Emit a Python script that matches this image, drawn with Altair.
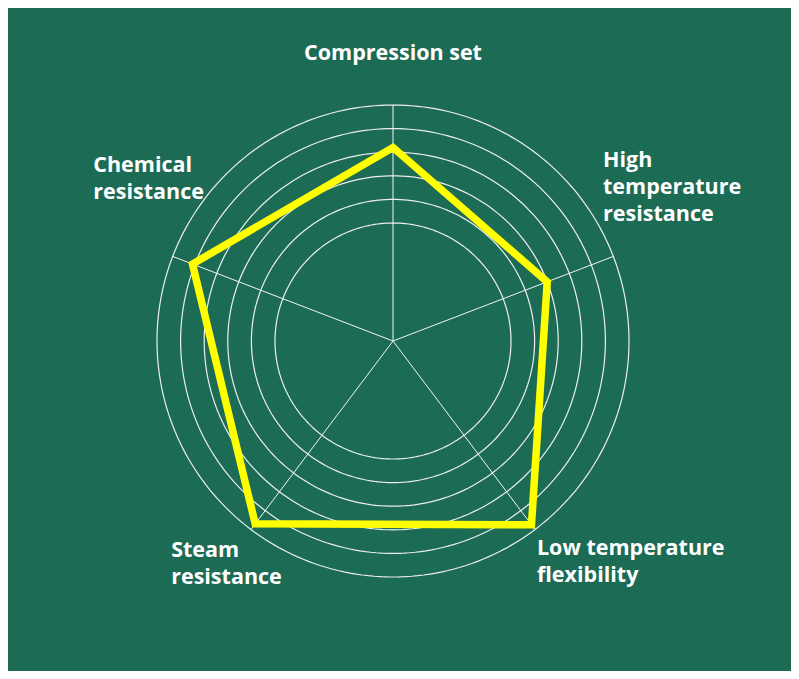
import altair as alt
import numpy as np
import pandas as pd

# ---- data ----
categories = ["Compression set", "High temperature resistance",
              "Low temperature flexibility", "Steam resistance", "Chemical resistance"]
values = [8.2, 7.0, 9.75, 9.7, 9.1]
ring_levels = [5, 6, 7, 8, 9, 10]
label_lines = [["Compression set"], ["High", "temperature", "resistance"],
               ["Low temperature", "flexibility"], ["Steam", "resistance"],
               ["Chemical", "resistance"]]

# ---- layout ----
W, H = 783, 663
PX = 23.6          # pixels per unit
CX, CY = 385, 333  # centre in chart pixels
xdom = [-CX / PX, (W - CX) / PX]
ydom = [-(H - CY) / PX, CY / PX]
BG = "#1c6b55"
spoke_angles_deg = [90, 21, -53, -127, 159]
# label anchors (data units, first-line baseline) and alignment
label_pos = [(0.0, 11.9, "center"), (8.9, 7.38, "left"), (6.1, -9.07, "left"),
             (-9.4, -9.14, "left"), (-12.7, 7.17, "left")]

n = len(categories)
ang = np.deg2rad(spoke_angles_deg)
rmax = max(ring_levels)

xs = alt.X("x:Q", scale=alt.Scale(domain=xdom, nice=False, zero=False), axis=None)
ys = alt.Y("y:Q", scale=alt.Scale(domain=ydom, nice=False, zero=False), axis=None)

# rings
t = np.linspace(0, 2 * np.pi, 241)
ring_rows = []
for r in ring_levels:
    for i, tt in enumerate(t):
        ring_rows.append({"ring": r, "i": i, "x": r * np.cos(tt), "y": r * np.sin(tt)})
rings = alt.Chart(pd.DataFrame(ring_rows)).mark_line(
    stroke="#eeeeee", strokeWidth=1.2).encode(
    x=xs, y=ys, detail="ring:N", order="i:Q")

# spokes
spoke_rows = []
for k, a in enumerate(ang):
    spoke_rows.append({"s": k, "i": 0, "x": 0.0, "y": 0.0})
    spoke_rows.append({"s": k, "i": 1, "x": rmax * np.cos(a), "y": rmax * np.sin(a)})
spokes = alt.Chart(pd.DataFrame(spoke_rows)).mark_line(
    stroke="#f4f4f4", strokeWidth=1).encode(
    x=xs, y=ys, detail="s:N", order="i:Q")

# polygon
poly_df = pd.DataFrame({
    "category": categories,
    "value": values,
    "i": range(n),
    "x": [v * np.cos(a) for v, a in zip(values, ang)],
    "y": [v * np.sin(a) for v, a in zip(values, ang)],
})
poly = alt.Chart(poly_df).mark_line(
    stroke="#ffff00", strokeWidth=7.5, interpolate="linear-closed",
    strokeJoin="miter").encode(x=xs, y=ys, order="i:Q")

# labels
lab_df = pd.DataFrame({
    "category": categories,
    "lines": label_lines,
    "x": [p[0] for p in label_pos],
    "y": [p[1] for p in label_pos],
    "align": [p[2] for p in label_pos],
})
text_kw = dict(color="white", font="Open Sans", fontSize=21.5, fontWeight="bold",
               baseline="alphabetic", lineHeight=27)
lab_c = alt.Chart(lab_df).transform_filter("datum.align == 'center'").mark_text(
    align="center", **text_kw).encode(x=xs, y=ys, text="lines")
lab_l = alt.Chart(lab_df).transform_filter("datum.align == 'left'").mark_text(
    align="left", **text_kw).encode(x=xs, y=ys, text="lines")

chart = alt.layer(rings, spokes, poly, lab_c, lab_l).properties(
    width=W, height=H, padding=0, autosize=alt.AutoSizeParams(type="none"),
    background=BG,
).configure_view(stroke=None)

chart.save("out.html", embed_options={"renderer": "svg", "actions": False})
